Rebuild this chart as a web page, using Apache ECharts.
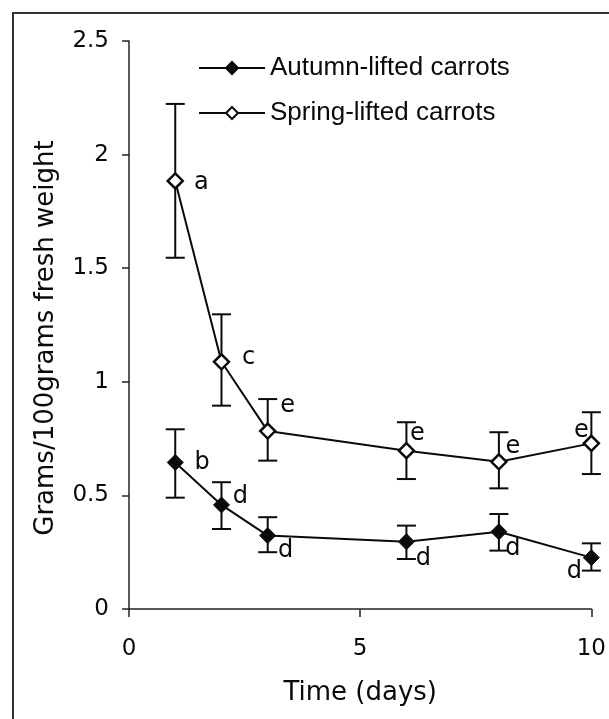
<!DOCTYPE html>
<html><head><meta charset="utf-8">
<script src="https://cdn.jsdelivr.net/npm/echarts@6/dist/echarts.min.js"></script>
<style>html,body{margin:0;padding:0;background:#fff}#c{width:609px;height:719px}</style>
</head><body><div id="c"></div>
<script>
// ---- data ----
const days = [1, 2, 3, 6, 8, 10];
const seriesNames = ['Autumn-lifted carrots', 'Spring-lifted carrots'];
const autumnMean = [0.645, 0.458, 0.323, 0.296, 0.340, 0.226];
const autumnHigh = [0.791, 0.558, 0.404, 0.367, 0.418, 0.289];
const autumnLow  = [0.490, 0.352, 0.250, 0.220, 0.257, 0.169];
const springMean = [1.884, 1.088, 0.783, 0.697, 0.648, 0.729];
const springHigh = [2.223, 1.297, 0.924, 0.822, 0.778, 0.866];
const springLow  = [1.546, 0.895, 0.653, 0.572, 0.531, 0.594];
const autumnLetters = ['b', 'd', 'd', 'd', 'd', 'd'];
const springLetters = ['a', 'c', 'e', 'e', 'e', 'e'];
const xTickValues = [0, 5, 10];
const yTickValues = [0, 0.5, 1, 1.5, 2, 2.5];

// ---- styling (pixel offsets of the letter labels) ----
const autumnLabelOffsets = [[27, 0], [19, -8], [18, 15], [17, 17], [14, 17], [-17, 14]];
const springLabelOffsets = [[26, 2], [27, -4], [20, -25], [11, -17], [14, -15], [-10, -13]];

const FONT = 'DejaVu Sans';
const INK = '#0a0a0a';

function errorData(mean, hi, lo) {
  return days.map((d, i) => [d, hi[i], lo[i], mean[i]]);
}
function errorSeries(mean, hi, lo) {
  return {
    type: 'custom', z: 1, silent: true,
    data: errorData(mean, hi, lo),
    encode: { x: 0, y: [1, 2] },
    renderItem: function (params, api) {
      const x = api.value(0);
      const pHi = api.coord([x, api.value(1)]);
      const pLo = api.coord([x, api.value(2)]);
      const hw = 9.5;
      const st = { stroke: INK, lineWidth: 2 };
      return {
        type: 'group',
        children: [
          { type: 'line', shape: { x1: pHi[0], y1: pHi[1], x2: pLo[0], y2: pLo[1] }, style: st },
          { type: 'line', shape: { x1: pHi[0] - hw, y1: pHi[1], x2: pHi[0] + hw, y2: pHi[1] }, style: st },
          { type: 'line', shape: { x1: pLo[0] - hw, y1: pLo[1], x2: pLo[0] + hw, y2: pLo[1] }, style: st }
        ]
      };
    }
  };
}
function letterSeries(mean, letters, offsets) {
  return {
    type: 'custom', z: 5, silent: true,
    data: days.map((d, i) => [d, mean[i]]),
    encode: { x: 0, y: 1 },
    renderItem: function (params, api) {
      const p = api.coord([api.value(0), api.value(1)]);
      const off = offsets[params.dataIndex];
      return {
        type: 'text',
        style: {
          text: letters[params.dataIndex],
          x: p[0] + off[0], y: p[1] + off[1],
          align: 'center', verticalAlign: 'middle',
          font: '24px "' + FONT + '"', fill: INK
        }
      };
    }
  };
}

const chart = echarts.init(document.getElementById('c'), null, { renderer: 'canvas' });
chart.setOption({
  backgroundColor: '#fff',
  animation: false,
  graphic: [{
    type: 'rect', z: 0,
    shape: { x: 13, y: 13, width: 800, height: 900 },
    style: { fill: 'none', stroke: '#333', lineWidth: 2 }
  }],
  legend: {
    orient: 'vertical', left: 193, top: 49,
    itemWidth: 66, itemHeight: 15, itemGap: 17,
    data: seriesNames,
    textStyle: { fontFamily: 'Liberation Sans', fontSize: 26, color: INK, lineHeight: 28 }
  },
  grid: { left: 129, right: 17, top: 41, bottom: 110, containLabel: false },
  xAxis: {
    type: 'value', min: 0, max: 10, interval: 5,
    name: 'Time (days)', nameLocation: 'middle', nameGap: 71,
    nameTextStyle: { fontFamily: FONT, fontSize: 26, color: INK },
    axisLine: { show: true, onZero: false, lineStyle: { color: '#222', width: 1.5 } },
    axisTick: { show: true, length: 8, lineStyle: { color: '#222', width: 1.5 } },
    axisLabel: { margin: 29, fontFamily: FONT, fontSize: 23, color: INK,
      formatter: v => xTickValues.includes(v) ? String(v) : '' },
    splitLine: { show: false }
  },
  yAxis: {
    type: 'value', min: 0, max: 2.5, interval: 0.5,
    name: 'Grams/100grams fresh weight', nameLocation: 'middle', nameGap: 70,
    nameTextStyle: { fontFamily: FONT, fontSize: 26, color: INK, padding: [0, 26, 0, 0] },
    axisLine: { show: true, lineStyle: { color: '#222', width: 1.5 } },
    axisTick: { show: true, length: 7, lineStyle: { color: '#222', width: 1.5 } },
    axisLabel: { margin: 20, fontFamily: FONT, fontSize: 23, color: INK,
      formatter: v => yTickValues.includes(v) ? String(v) : '' },
    splitLine: { show: false }
  },
  series: [
    errorSeries(autumnMean, autumnHigh, autumnLow),
    errorSeries(springMean, springHigh, springLow),
    {
      name: seriesNames[0], type: 'line', z: 3,
      data: days.map((d, i) => [d, autumnMean[i]]),
      symbol: 'diamond', symbolSize: [16, 16],
      lineStyle: { color: INK, width: 2 },
      itemStyle: { color: INK, borderColor: INK, borderWidth: 1 }
    },
    {
      name: seriesNames[1], type: 'line', z: 3,
      data: days.map((d, i) => [d, springMean[i]]),
      symbol: 'diamond', symbolSize: [15, 15],
      lineStyle: { color: INK, width: 2 },
      itemStyle: { color: '#fff', borderColor: INK, borderWidth: 2.5 }
    },
    letterSeries(autumnMean, autumnLetters, autumnLabelOffsets),
    letterSeries(springMean, springLetters, springLabelOffsets)
  ]
});
</script></body></html>
